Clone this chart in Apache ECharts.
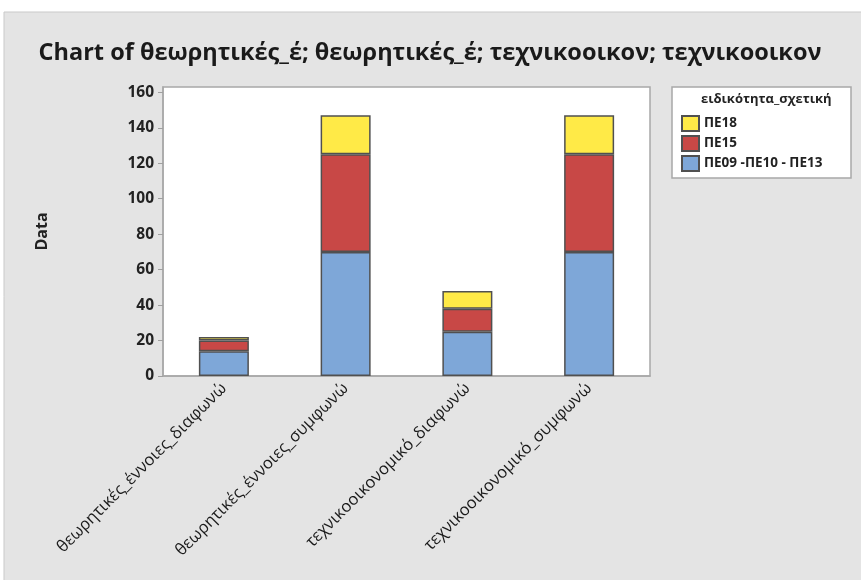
<!DOCTYPE html>
<html>
<head>
<meta charset="utf-8">
<script src="https://cdn.jsdelivr.net/npm/echarts@6/dist/echarts.min.js"></script>
<style>
  html, body { margin: 0; padding: 0; background: #fff; }
</style>
</head>
<body>
<div id="myChart" style="width: 861px; height: 580px;"></div>
<script>
// δεδομένα
var categories = [
  "θεωρητικές_έννοιες_διαφωνώ",
  "θεωρητικές_έννοιες_συμφωνώ",
  "τεχνικοοικονομικό_διαφωνώ",
  "τεχνικοοικονομικό_συμφωνώ"
];
var seriesNames = ["ΠΕ09 -ΠΕ10 - ΠΕ13", "ΠΕ15", "ΠΕ18"];
var pe09 = [14, 70, 25, 70];
var pe15 = [6, 55, 13, 55];
var pe18 = [2, 22, 10, 22];
var yTicks = [0, 20, 40, 60, 80, 100, 120, 140, 160];

var colors = ["#7ea7d8", "#c84846", "#ffea47"];
var font = "'Open Sans', 'Noto Sans', sans-serif";

var myChart = echarts.init(document.getElementById("myChart"));

var values = [pe09, pe15, pe18];
var seriesArr = [];
for (var i = 0; i < seriesNames.length; i++) {
  seriesArr.push({
    name: seriesNames[i],
    type: "bar",
    stack: "total",
    barWidth: 50,
    data: values[i],
    itemStyle: {
      color: colors[i],
      borderColor: "#505050",
      borderWidth: 1.5
    }
  });
}

myChart.setOption({
  animation: false,
  graphic: [
    {
      type: "rect",
      z: -10,
      shape: { x: 4, y: 12, width: 880, height: 600 },
      style: { fill: "#e4e4e4", stroke: "#c9c9c9", lineWidth: 1 }
    },
    {
      type: "rect",
      z: -5,
      shape: { x: 672, y: 87, width: 179, height: 91 },
      style: { fill: "#fff", stroke: "#a8a8a8", lineWidth: 1.5 }
    },
    {
      type: "text",
      left: 701,
      top: 93,
      style: {
        text: "ειδικότητα_σχετική",
        font: "bold 13px " + font,
        fill: "#222"
      }
    }
  ],
  title: {
    text: "Chart of θεωρητικές_έ; θεωρητικές_έ; τεχνικοοικον; τεχνικοοικον",
    left: 425,
    textAlign: "center",
    top: 36,
    textStyle: {
      fontFamily: font,
      fontWeight: "bold",
      fontSize: 23.5,
      color: "#1a1a1a"
    }
  },
  legend: {
    orient: "vertical",
    left: 676,
    top: 110,
    itemGap: 3,
    itemWidth: 17,
    itemHeight: 15,
    icon: "rect",
    data: ["ΠΕ18", "ΠΕ15", "ΠΕ09 -ΠΕ10 - ΠΕ13"],
    textStyle: {
      fontFamily: font,
      fontWeight: "bold",
      fontSize: 13.5,
      color: "#222"
    }
  },
  grid: {
    left: 163,
    top: 87,
    width: 487,
    height: 289,
    show: true,
    backgroundColor: "#fff",
    borderColor: "#a8a8a8",
    borderWidth: 1.5,
    containLabel: false
  },
  xAxis: {
    type: "category",
    data: categories,
    axisLine: { lineStyle: { color: "#a8a8a8", width: 1.5 } },
    axisTick: { alignWithLabel: true, length: 5, lineStyle: { color: "#a0a0a0" } },
    axisLabel: {
      rotate: 45,
      margin: 10,
      fontFamily: font,
      fontSize: 16.5,
      color: "#1a1a1a"
    }
  },
  yAxis: {
    type: "value",
    min: 0,
    max: 163,
    interval: 20,
    name: "Data",
    nameLocation: "middle",
    nameRotate: 90,
    nameGap: 113,
    nameTextStyle: {
      fontFamily: font,
      fontWeight: "bold",
      fontSize: 16,
      color: "#222"
    },
    splitLine: { show: false },
    axisLine: { show: true, lineStyle: { color: "#a8a8a8", width: 1.5 } },
    axisTick: {
      show: true,
      length: 5,
      lineStyle: { color: "#a0a0a0" },
      customValues: yTicks
    },
    axisLabel: {
      margin: 9,
      fontFamily: font,
      fontWeight: "bold",
      fontSize: 15.5,
      color: "#222",
      customValues: yTicks
    }
  },
  series: seriesArr
});
</script>
</body>
</html>
